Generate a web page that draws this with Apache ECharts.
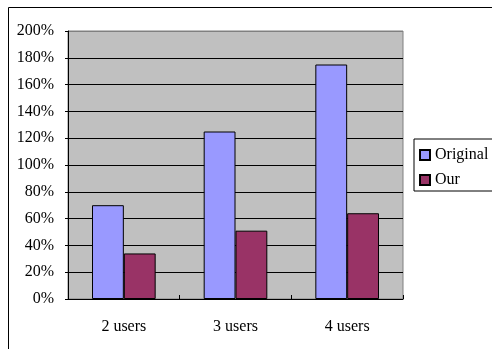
<!DOCTYPE html>
<html>
<head>
<meta charset="utf-8">
<script src="https://cdn.jsdelivr.net/npm/echarts@6/dist/echarts.min.js"></script>
<style>
  html, body { margin: 0; padding: 0; background: #fff; }
  #chart { width: 492px; height: 349px; }
</style>
</head>
<body>
<div id="chart"></div>
<script>
// Categories and series values (percent)
var categories = ['2 users', '3 users', '4 users'];
var originalValues = [70, 125, 175];
var ourValues = [34, 51, 64];
var seriesNames = ['Original', 'Our'];

var FONT = '"Liberation Serif", "Times New Roman", serif';

var chart = echarts.init(document.getElementById('chart'), null, { renderer: 'canvas' });

// Gridline colours: black inside, grey at the top edge of the plot
var gridColors = [];
for (var i = 0; i <= 10; i++) gridColors.push(i === 10 ? '#808080' : '#000000');

chart.setOption({
  animation: false,
  backgroundColor: '#ffffff',
  graphic: [{
    type: 'rect',
    left: 6, top: 5,
    shape: { width: 520, height: 400 },
    style: { fill: 'none', stroke: '#000', lineWidth: 1 },
    z: 100, silent: true
  }],
  grid: {
    left: 68, top: 31, right: 89, bottom: 50,
    show: true,
    backgroundColor: '#C0C0C0',
    borderColor: '#808080',
    borderWidth: 1
  },
  legend: {
    orient: 'vertical',
    left: 414, top: 139,
    padding: [8, 40, 3, 5],
    itemGap: 9,
    itemWidth: 10, itemHeight: 10,
    icon: 'rect',
    backgroundColor: '#fff',
    borderColor: '#000',
    borderWidth: 1,
    borderRadius: 0,
    textStyle: { fontFamily: FONT, fontSize: 16, color: '#000', lineHeight: 16 },
    data: seriesNames
  },
  xAxis: {
    type: 'category',
    data: categories,
    axisLine: { lineStyle: { color: '#000', width: 1 } },
    axisTick: { show: true, inside: true, length: 4, lineStyle: { color: '#000' } },
    axisLabel: { fontFamily: FONT, fontSize: 16, color: '#000', margin: 20 },
    splitLine: { show: false }
  },
  yAxis: {
    type: 'value',
    min: 0, max: 200, interval: 20,
    axisLine: { show: true, lineStyle: { color: '#000', width: 1 } },
    axisTick: { show: true, length: 3, lineStyle: { color: '#000' } },
    axisLabel: {
      fontFamily: FONT, fontSize: 16, color: '#000', margin: 14,
      padding: [4, 0, 0, 0],
      formatter: function (v) { return v + '%'; }
    },
    splitLine: { show: true, lineStyle: { color: gridColors, width: 1 } }
  },
  series: [{
    name: seriesNames[0],
    type: 'bar',
    data: originalValues,
    barGap: '0%',
    barCategoryGap: '43%',
    itemStyle: { color: '#9999FF', borderColor: '#000', borderWidth: 1 }
  }, {
    name: seriesNames[1],
    type: 'bar',
    data: ourValues,
    itemStyle: { color: '#993366', borderColor: '#000', borderWidth: 1 }
  }]
});
</script>
</body>
</html>
